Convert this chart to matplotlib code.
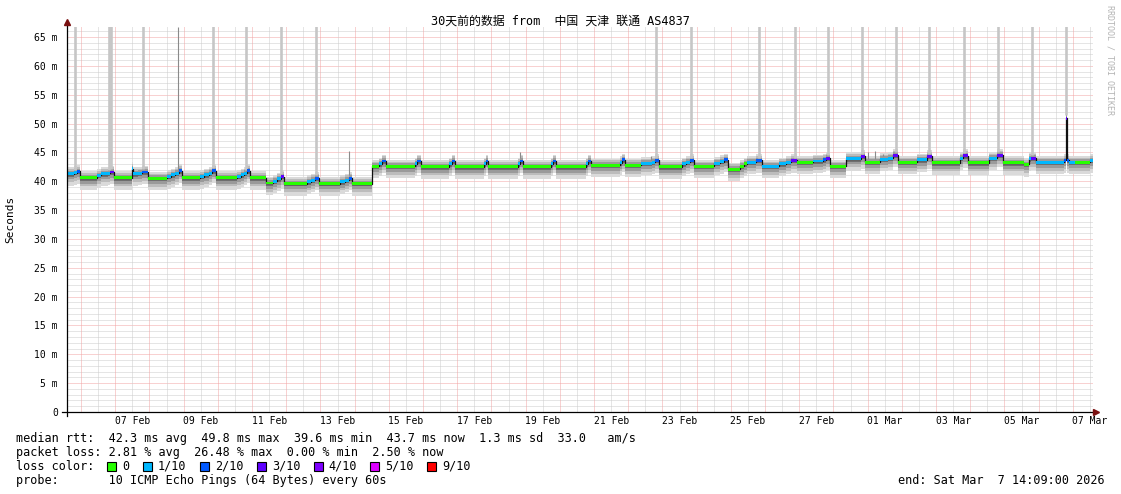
import numpy as np
import matplotlib
matplotlib.use("Agg")
import matplotlib.pyplot as plt
from matplotlib.patches import Rectangle

# hours counted from Feb 5 00:00, graph runs Feb 5 14:09 -> Mar 7 14:09
t_start = 14.15
t_end = 734.15

# median rtt change points (step series), value in ms and loss (x/10)
chg_hour = [14.15, 19.0, 21.0, 23.5,
            35.0, 38.0, 43.0, 44.5, 47.1,
            59.8, 60.6, 64.0, 67.0, 71.2,
            84.1, 87.0, 90.0, 92.5, 94.6,
            107.5, 110.5, 113.5, 116.0, 118.7,
            133.2, 136.0, 138.5, 140.5, 142.6,
            153.8, 158.4, 161.5, 164.0, 166.6,
            182.4, 185.5, 188.0, 190.7,
            205.7, 209.0, 212.0, 214.4,
            228.0, 233.3, 235.5, 237.9,
            258.4, 260.0, 262.4,
            282.5, 284.0, 286.4,
            306.5, 308.0, 309.8,
            330.5, 332.0, 333.9,
            354.0, 355.4, 357.3,
            378.5, 380.0, 381.9,
            402.0, 403.4, 405.7,
            417.0, 425.0, 426.8, 429.8,
            445.4, 448.5, 451.0, 454.4,
            468.5, 472.5, 474.9, 477.9,
            486.4, 489.0, 491.0, 497.5, 502.1,
            513.5, 518.5, 522.5, 526.2,
            537.7, 544.7, 547.0, 549.6,
            560.8, 571.0, 574.2,
            584.7, 590.0, 593.5, 597.5,
            610.6, 617.5, 621.4,
            640.6, 643.0, 646.5,
            660.9, 666.5, 670.8,
            686.0, 688.9, 690.5, 693.8,
            713.7, 715.0, 715.6, 717.5, 721.8, 732.3]
median_ms = [41.3, 41.5, 41.7, 40.6,
             41.0, 41.3, 41.4, 41.6, 40.6,
             42.2, 41.3, 41.4, 41.6, 40.5,
             40.8, 41.1, 41.4, 41.8, 40.6,
             40.8, 41.1, 41.4, 41.8, 40.6,
             40.8, 41.1, 41.4, 41.8, 40.6,
             39.7, 40.0, 40.4, 40.8, 39.6,
             39.9, 40.2, 40.5, 39.6,
             39.9, 40.2, 40.5, 39.6,
             42.6, 43.0, 43.5, 42.6,
             43.0, 43.5, 42.5,
             43.0, 43.5, 42.5,
             43.0, 43.5, 42.5,
             43.0, 43.5, 42.5,
             43.0, 43.5, 42.5,
             43.0, 43.5, 42.8,
             43.2, 43.7, 42.8,
             43.1, 43.3, 43.6, 42.5,
             43.0, 43.3, 43.6, 42.6,
             43.1, 43.4, 43.7, 42.1,
             42.6, 43.0, 43.3, 43.6, 42.6,
             43.0, 43.3, 43.6, 43.3,
             43.5, 43.7, 44.0, 42.6,
             43.9, 44.3, 43.3,
             43.8, 44.0, 44.5, 43.3,
             43.7, 44.3, 43.2,
             44.0, 44.4, 43.2,
             44.0, 44.5, 43.2,
             42.9, 43.9, 44.0, 43.3,
             43.6, 50.9, 43.6, 43.3, 43.3, 43.6]
loss10 = [1, 1, 2, 0,
          1, 1, 1, 3, 0,
          1, 1, 1, 2, 0,
          1, 1, 1, 2, 0,
          1, 1, 1, 2, 0,
          1, 1, 1, 2, 0,
          0, 1, 1, 3, 0,
          1, 1, 2, 0,
          1, 1, 2, 0,
          0, 1, 2, 0,
          1, 2, 0,
          1, 2, 0,
          1, 2, 0,
          1, 2, 0,
          1, 2, 0,
          1, 2, 0,
          1, 2, 0,
          1, 1, 2, 0,
          1, 1, 2, 0,
          1, 1, 2, 0,
          0, 0, 1, 2, 1,
          1, 1, 3, 0,
          1, 2, 3, 0,
          1, 3, 0,
          1, 1, 3, 0,
          1, 3, 0,
          1, 3, 0,
          1, 3, 0,
          0, 1, 3, 1,
          2, 3, 2, 1, 0, 1]

# max ping off the scale (wide light smoke spikes)
spike_max_hours = [19.8, 43.6, 45.0, 67.8, 116.3, 140.1, 164.3, 189.2,
                   427.5, 452.0, 499.8, 524.7, 548.5, 572.0, 595.9,
                   619.4, 643.6, 667.5, 691.3, 715.2]
# several pings high (thin darker spikes)
spike_hi_hours = [92.0, 212.3, 332.0, 424.0, 576.3, 581.2, 586.8]
spike_hi_ms = [66.7, 45.2, 45.1, 44.3, 45.0, 45.3, 44.8]

# spread of the 10 pings around the median (ms), inner to outer
smoke_below = [0.5, 1.0, 1.5, 2.1]
smoke_above = [0.25, 0.5, 0.8, 1.1]
smoke_grey = ["#6e6e6e", "#9a9a9a", "#bcbcbc", "#dadada"]

loss_colors = {0: "#26ff00", 1: "#00b8ff", 2: "#0059ff", 3: "#5e00ff",
               4: "#7e00ff", 5: "#dd00ff", 9: "#ff0000"}
legend_loss = [0, 1, 2, 3, 4, 5, 9]
legend_loss_txt = ["0", "1/10", "2/10", "3/10", "4/10", "5/10", "9/10"]

xlabels = ["07 Feb", "09 Feb", "11 Feb", "13 Feb", "15 Feb", "17 Feb", "19 Feb",
           "21 Feb", "23 Feb", "25 Feb", "27 Feb", "01 Mar", "03 Mar", "05 Mar", "07 Mar"]

W, H = 1121, 494
mono = "DejaVu Sans Mono"
fig = plt.figure(figsize=(W / 100, H / 100), dpi=100)
fig.patch.set_facecolor("white")


def fx(x):
    return x / W


def fy(y):
    return 1 - y / H


ax = fig.add_axes([fx(67), fy(412), (1093 - 67) / W, (412 - 27) / H])
ymax = (412 - 27) / ((412 - 37) / 65)
ax.set_xlim(t_start, t_end)
ax.set_ylim(0, ymax)
for s in ax.spines.values():
    s.set_visible(False)

# dotted grid like rrdtool (gray minor, red major)
dot = (0, (1, 1))
for v in range(1, 67):
    col = "#f2a4a4" if v % 5 == 0 else "#cdcdcd"
    ax.axhline(v, color=col, lw=0.72, ls=dot, zorder=0.5)
for h in range(12, 740, 12):
    col = "#f2a4a4" if h % 24 == 0 else "#cdcdcd"
    ax.axvline(h, color=col, lw=0.72, ls=dot, zorder=0.5)

t = np.array(chg_hour + [t_end])
med = np.array(median_ms + [median_ms[-1]])

# smoke
for below, above, grey in reversed(list(zip(smoke_below, smoke_above, smoke_grey))):
    ax.fill_between(t, med - below, med + above, step="post", color=grey, lw=0, zorder=1)


def med_at(h):
    i = np.searchsorted(t, h, side="right") - 1
    return med[max(i, 0)]


for h in spike_max_hours:
    ax.vlines(h, med_at(h) + 0.5, 70, color="#c6c6c6", lw=1.9, zorder=1.2)
for h, top in zip(spike_hi_hours, spike_hi_ms):
    ax.vlines(h, med_at(h) + 0.5, top, color="#8a8a8a", lw=0.8, zorder=1.3)

# median line + loss colour
ax.step(t, med, where="post", color="#111111", lw=0.9, zorder=2)
for i in range(len(chg_hour)):
    ax.fill_between([t[i], t[i + 1]], med[i] - 0.25, med[i] + 0.25,
                    color=loss_colors[loss10[i]], lw=0, zorder=3)

# ticks
ax.set_yticks(range(0, 66, 5))
ax.set_yticklabels(["0"] + ["%d m" % v for v in range(5, 66, 5)], family=mono, fontsize=7)
ax.set_xticks([24 * d + 12 for d in range(2, 31, 2)])
ax.set_xticklabels(xlabels, family=mono, fontsize=7)
ax.tick_params(axis="y", length=0, pad=6.5)
ax.tick_params(axis="x", length=0, pad=3)

# axes lines and arrows
ax.plot([0, 0], [-0.01, 1.012], transform=ax.transAxes, color="black", lw=0.9, clip_on=False, zorder=5)
ax.plot([-0.005, 1.0025], [0, 0], transform=ax.transAxes, color="black", lw=0.9, clip_on=False, zorder=5)
ax.plot([0], [1.013], transform=ax.transAxes, marker="^", color="#7a1010", ms=4, clip_on=False, zorder=6)
ax.plot([1.003], [0], transform=ax.transAxes, marker=">", color="#7a1010", ms=4, clip_on=False, zorder=6)

# texts
fig.text(fx(560), fy(21), "30天前的数据 from  中国 天津 联通 AS4837",
         family=[mono, "Noto Sans CJK SC"], fontsize=8.6, ha="center", va="center")
fig.text(fx(10), fy(219), "Seconds", family=mono, fontsize=8, rotation=90, ha="center", va="center")
fig.text(fx(1110), fy(5), "RRDTOOL / TOBI OETIKER", family=mono, fontsize=6,
         rotation=-90, ha="center", va="top", color="#b4b4b4")

fs = 8.5
cw = fs * 100 / 72 * 0.602
x0 = 16
fig.text(fx(x0), fy(438), "median rtt:  42.3 ms avg  49.8 ms max  39.6 ms min  43.7 ms now  1.3 ms sd  33.0   am/s",
         family=mono, fontsize=fs, va="center")
fig.text(fx(x0), fy(452), "packet loss: 2.81 % avg  26.48 % max  0.00 % min  2.50 % now",
         family=mono, fontsize=fs, va="center")
fig.text(fx(x0), fy(466), "loss color:", family=mono, fontsize=fs, va="center")
for k, (lv, txt) in enumerate(zip(legend_loss, legend_loss_txt)):
    col = 13 if k == 0 else 18 + 8 * (k - 1)
    bx = x0 + (col + 0.5) * cw
    fig.add_artist(Rectangle((fx(bx - 4.5), fy(466 + 4.5)), 9 / W, 9 / H, transform=fig.transFigure,
                             facecolor=loss_colors[lv], edgecolor="black", lw=0.8))
    fig.text(fx(x0 + (col + 2) * cw), fy(466), txt, family=mono, fontsize=fs, va="center")
fig.text(fx(x0), fy(480), "probe:       10 ICMP Echo Pings (64 Bytes) every 60s",
         family=mono, fontsize=fs, va="center")
fig.text(fx(1105), fy(480), "end: Sat Mar  7 14:09:00 2026", family=mono, fontsize=fs, va="center", ha="right")

fig.savefig("out.png", dpi=100)
